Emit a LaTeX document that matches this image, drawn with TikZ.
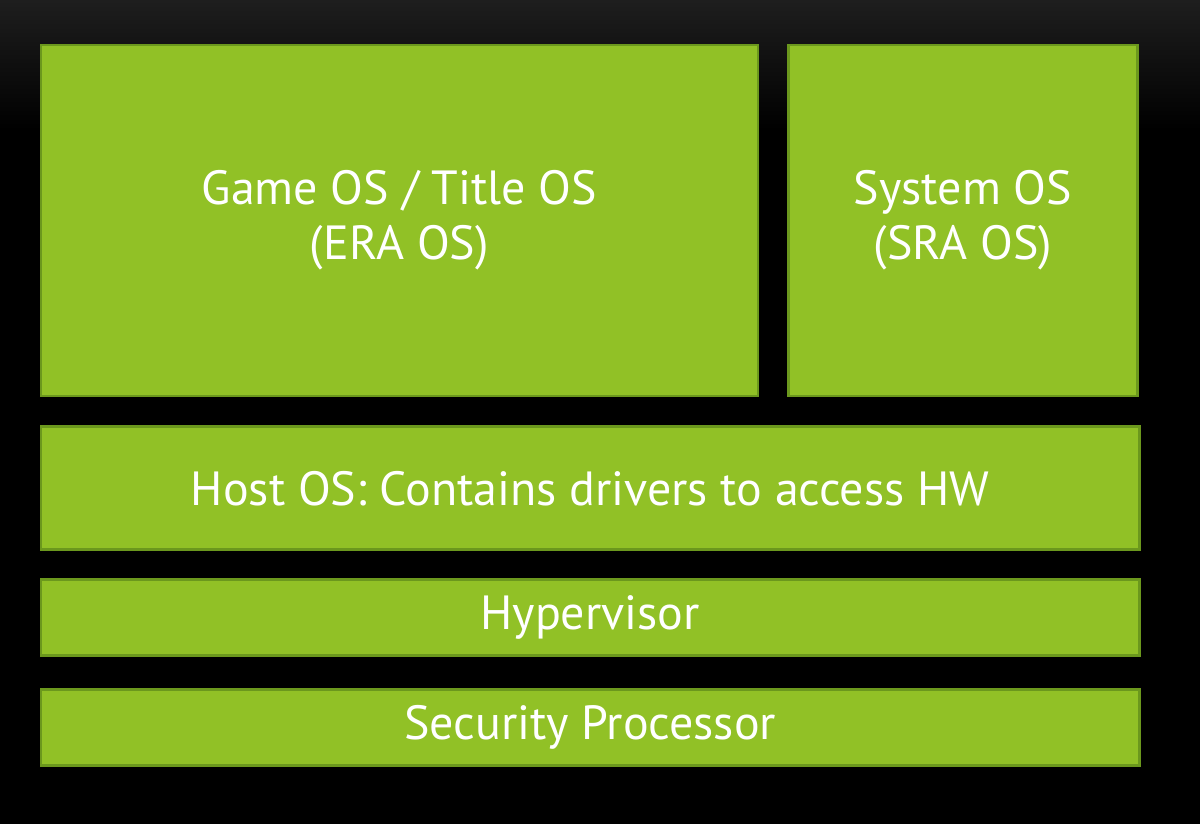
\documentclass[tikz,border=0pt]{standalone}
\usepackage{fontspec}
\setmainfont{PT Sans}
\usetikzlibrary{positioning, backgrounds}
\definecolor{layergreen}{HTML}{91C126}
\definecolor{layeredge}{HTML}{6B981D}
\definecolor{slidebg}{HTML}{000000}
\definecolor{slidegrey}{HTML}{1E1E1E}
\tikzset{
  layer/.style={
    rectangle, draw=layeredge, line width=1.6pt, fill=layergreen,
    text=white, align=center, inner sep=0pt,
    font=\fontsize{27.3}{31.5}\selectfont
  }
}

\begin{document}
\begin{tikzpicture}

  % Background
  \fill[slidebg] (0,0) rectangle (24,-16.48);
  \shade[top color=slidegrey, bottom color=slidebg] (0,0) rectangle (24,-2.6);
  \useasboundingbox (0,0) rectangle (24,-16.48);

  % Guest OS partitions
  \node[layer, minimum width=14.34cm, minimum height=7.02cm, anchor=north west] (game) at (0.79,-0.87) {Game OS / Title OS\\(ERA OS)};
  \node[layer, minimum width=6.97cm, minimum height=7.02cm, right=0.56cm of game] (sysos) {System OS\\(SRA OS)};

  % Lower layers
  \node[layer, minimum width=21.97cm, minimum height=2.46cm, below right=0.56cm and 0cm of game.south west] (host) {Host OS: Contains drivers to access HW};
  \node[layer, minimum width=21.97cm, minimum height=1.52cm, below=0.54cm of host] (hyper) {Hypervisor};
  \node[layer, minimum width=21.97cm, minimum height=1.52cm, below=0.62cm of hyper] (secproc) {Security Processor};

\end{tikzpicture}
\end{document}
